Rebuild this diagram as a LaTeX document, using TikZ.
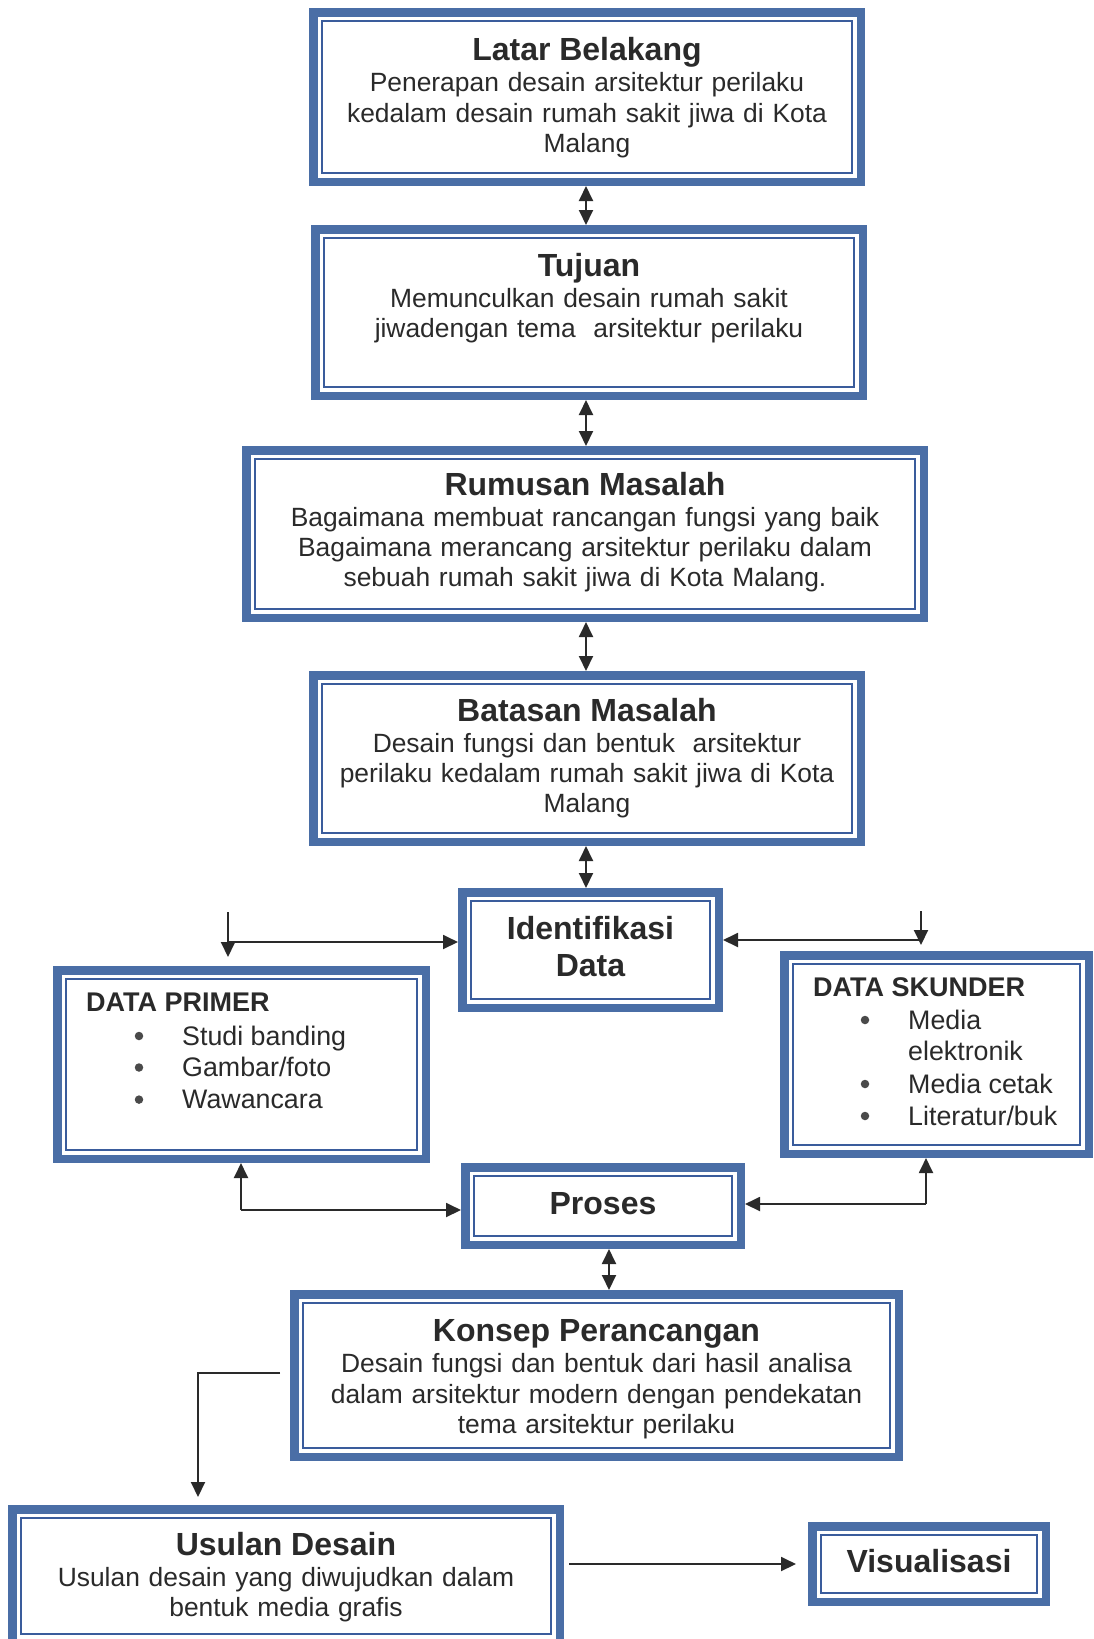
\documentclass[tikz,border=0pt]{standalone}
\usepackage{fontspec}
\setmainfont{Liberation Sans}
\usetikzlibrary{arrows.meta}

\definecolor{boxblue}{RGB}{74,110,166}
\definecolor{lineblue}{RGB}{58,92,156}
\definecolor{ink}{RGB}{42,42,42}

\newcommand\ttl{\fontsize{32}{37}\selectfont\bfseries}

% framed panel: thick outer band, white gap, thin inner line
% #1 name, (#2,#3) top-left corner, (#4,#5) bottom-right corner
\newcommand\panel[5]{%
  \pgfmathsetmacro\pnlw{#4-#2-8.5}%
  \pgfmathsetmacro\pnlh{#5-#3-8.5}%
  \pgfmathsetmacro\pnlx{(#2+#4)/2}%
  \pgfmathsetmacro\pnly{(#3+#5)/2}%
  \node[panel, minimum width=\pnlw pt, minimum height=\pnlh pt] (#1) at (\pnlx,\pnly) {};
  \draw[innerline] ([shift={(12.75pt,-12.75pt)}]#1.north west)
    rectangle ([shift={(-12.75pt,12.75pt)}]#1.south east);
}

\tikzset{
  panel/.style={rectangle, draw=boxblue, line width=8.5pt, fill=white,
    inner sep=0pt, outer sep=4.25pt},
  innerline/.style={draw=lineblue, line width=2.2pt},
  body/.style={font=\fontsize{26.4}{30.3}\selectfont, text=ink, inner sep=0pt,
    align=center, anchor=base},
  item/.style={font=\fontsize{26.8}{30.3}\selectfont, text=ink, inner sep=0pt,
    anchor=base west},
  bul/.style={circle, fill=ink!85, inner sep=0pt, minimum size=8.5pt},
  head/.style={font=\fontsize{27}{30.3}\selectfont\bfseries, text=ink,
    inner sep=0pt, anchor=base west},
  arr/.style={draw=ink, line width=1.9pt, -{Triangle[length=15pt,width=14pt]}},
  dbl/.style={draw=ink, line width=1.9pt,
    {Triangle[length=15pt,width=14pt]}-{Triangle[length=15pt,width=14pt]}},
}

\begin{document}
\begin{tikzpicture}[x=1pt,y=-1pt]
\fill[white] (0,0) rectangle (1094,1639);
\useasboundingbox (0,0) rectangle (1094,1639);

% panels
\panel{latar}{309}{8}{865}{186}
\panel{tujuan}{311}{225}{867}{400}
\panel{rumusan}{242}{446}{928}{622}
\panel{batasan}{309}{671}{865}{846}
\panel{ident}{458}{888}{723}{1012}
\panel{primer}{53}{966}{430}{1163}
\panel{skunder}{780}{951}{1093}{1158}
\panel{proses}{461}{1163}{745}{1249}
\panel{konsep}{290}{1290}{903}{1461}
\panel{usulan}{8}{1505}{564}{1647}
\panel{visual}{808}{1522}{1050}{1606}

% panel texts
\node[body, text width=540pt] (latarT) at (587,60.6)
  {{\ttl Latar Belakang}\\[0.8pt]
   Penerapan desain arsitektur perilaku\\
   kedalam desain rumah sakit jiwa di Kota\\
   Malang};
\node[body, text width=540pt] (tujuanT) at (589,276)
  {{\ttl Tujuan}\\[0.8pt]
   Memunculkan desain rumah sakit\\
   jiwadengan tema\ \ arsitektur perilaku};
\node[body, text width=660pt] (rumusanT) at (585,495)
  {{\ttl Rumusan Masalah}\\[0.8pt]
   Bagaimana membuat rancangan fungsi yang baik\\
   Bagaimana merancang arsitektur perilaku dalam\\
   sebuah rumah sakit jiwa di Kota Malang.};
\node[body, text width=540pt] (batasanT) at (587,721)
  {{\ttl Batasan Masalah}\\[0.8pt]
   Desain fungsi dan bentuk\ \ arsitektur\\
   perilaku kedalam rumah sakit jiwa di Kota\\
   Malang};
\node[body, text width=240pt, font=\ttl] (identT) at (590.5,939)
  {Identifikasi\\ Data};
\node[body, font=\ttl] (prosesT) at (603,1214) {Proses};
\node[body, text width=600pt] (konsepT) at (596.5,1341.7)
  {{\ttl Konsep Perancangan}\\[0.8pt]
   Desain fungsi dan bentuk dari hasil analisa\\
   dalam arsitektur modern dengan pendekatan\\
   tema arsitektur perilaku};
\node[body, text width=540pt] (usulanT) at (286,1555)
  {{\ttl Usulan Desain}\\[0.8pt]
   Usulan desain yang diwujudkan dalam\\
   bentuk media grafis};
\node[body, font=\ttl] (visualT) at (929,1572.6) {Visualisasi};

% data primer list
\node[head] (primerH) at (86,1011.5) {DATA PRIMER};
\node[bul] (pb1) at (139,1036) {};
\node[bul] (pb2) at (139,1067.5) {};
\node[bul] (pb3) at (139,1099.6) {};
\node[item] (pi1) at (182,1045) {Studi banding};
\node[item] (pi2) at (182,1076.5) {Gambar/foto};
\node[item] (pi3) at (182,1108.6) {Wawancara};

% data skunder list
\node[head] (skunderH) at (813,996) {DATA SKUNDER};
\node[bul] (sb1) at (865,1020) {};
\node[bul] (sb3) at (865,1084) {};
\node[bul] (sb4) at (865,1116) {};
\node[item] (si1) at (908,1029) {Media};
\node[item] (si2) at (908,1060.6) {elektronik};
\node[item] (si3) at (908,1093) {Media cetak};
\node[item] (si4) at (908,1125) {Literatur/buk};

% vertical chain
\draw[dbl] (latar.south -| 586,0) -- (tujuan.north -| 586,0);
\draw[dbl] (tujuan.south -| 586,0) -- (rumusan.north -| 586,0);
\draw[dbl] (rumusan.south -| 586,0) -- (batasan.north -| 586,0);
\draw[dbl] (batasan.south -| 586,0) -- (ident.north -| 586,0);
\draw[dbl] (proses.south -| 609,0) -- (konsep.north -| 609,0);

% data sources into identification
\coordinate (lt) at (228,912);
\coordinate (lj) at (228,942);
\draw[arr, shorten >=9pt] (lt) -- (lt |- primer.north);
\draw[arr] (lj) -- (lj -| ident.west);
\coordinate (rt) at (921,911);
\coordinate (rj) at (921,940);
\draw[arr, shorten >=6pt] (rt) -- (rt |- skunder.north);
\draw[arr] (rj) -- (rj -| ident.east);

% data sources to process
\coordinate (bl) at (241,1210);
\draw[arr] (bl) -- (bl |- primer.south);
\draw[arr] (bl) -- (bl -| proses.west);
\coordinate (br) at (926,1204);
\draw[arr] (br) -- (br |- skunder.south);
\draw[arr] (br) -- (br -| proses.east);

% concept to proposal, proposal to visualisation
\coordinate (kl) at (280,1373);
\coordinate (kc) at (198,1373);
\draw[arr, shorten >=8pt] (kl) -- (kc) -- (kc |- usulan.north);
\coordinate (uv) at (569,1564);
\draw[arr, shorten >=12pt] (uv) -- (uv -| visual.west);
\end{tikzpicture}
\end{document}
